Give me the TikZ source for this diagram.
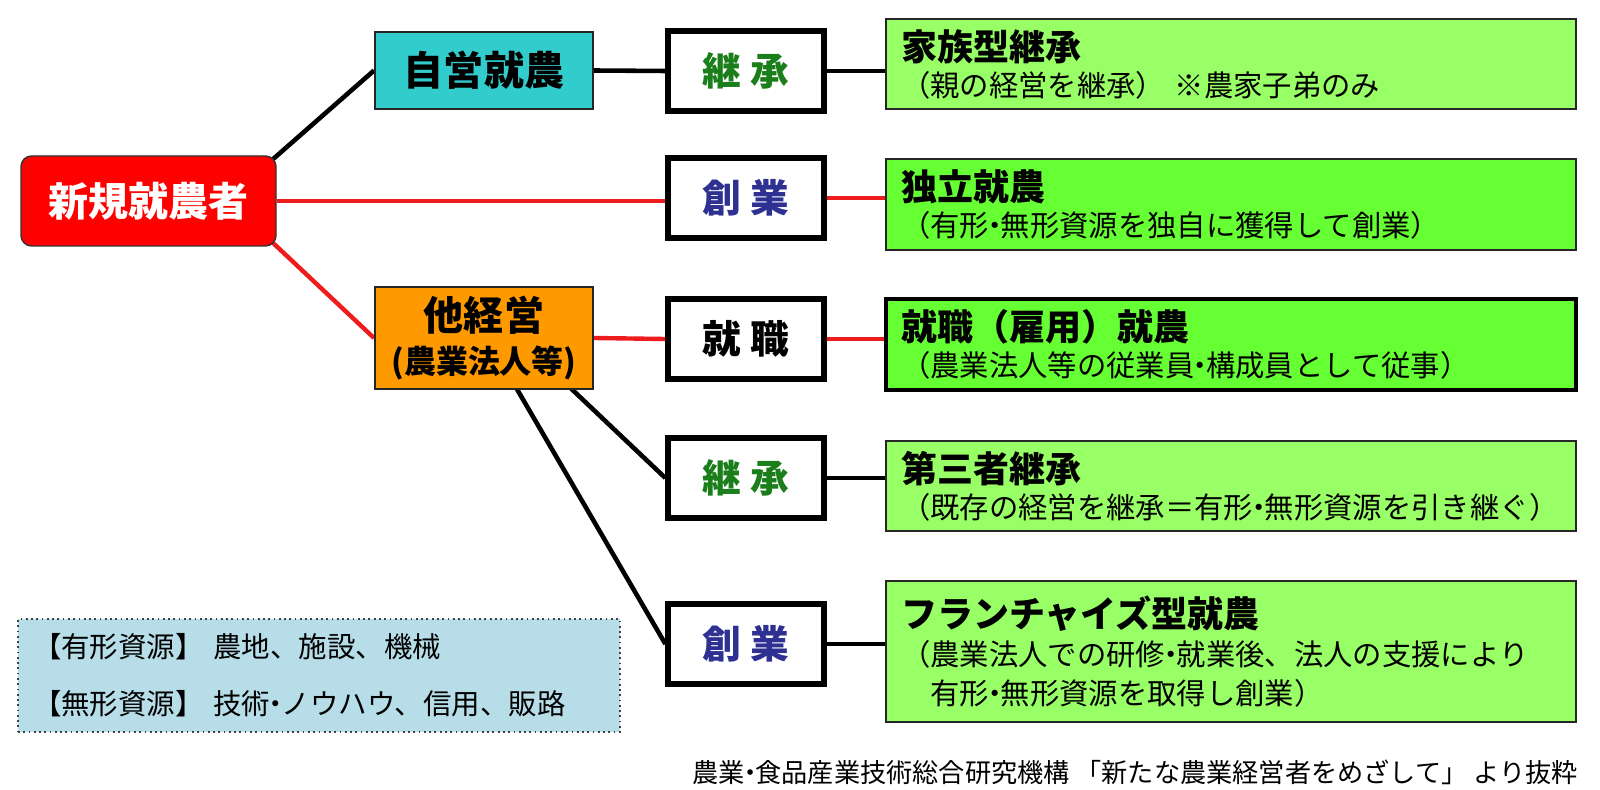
\documentclass[tikz,border=0pt]{standalone}
\usepackage{fontspec}
\setmainfont{Noto Sans CJK JP}
\usepackage{tikz}
\usetikzlibrary{positioning,calc,backgrounds}
\definecolor{rootred}{HTML}{FF0000}
\definecolor{linered}{HTML}{EE1C1C}
\definecolor{selfteal}{HTML}{33CCCC}
\definecolor{orgorange}{HTML}{FF9900}
\definecolor{palegreen}{HTML}{99FF66}
\definecolor{brightgreen}{HTML}{66FF33}
\definecolor{inheritgreen}{HTML}{1A7F1A}
\definecolor{startblue}{HTML}{2E3192}
\definecolor{legendblue}{HTML}{B7DEE8}
\newcommand{\ttl}[1]{{\fontsize{20.5}{24}\selectfont\bfseries #1}\\[5pt]}
\newcommand{\dt}{\kern-.3em・\kern-.3em}
\newcommand{\op}{\kern-.3em（}
\tikzset{
  root/.style={draw=black!80,line width=0.8pt,rounded corners=6pt,fill=rootred,text=white,
               font=\fontsize{22.8}{26}\selectfont\bfseries,minimum width=5.1cm,minimum height=1.8cm},
  branch/.style={draw=black!85,line width=1.1pt,align=center,inner sep=0pt,
                 font=\fontsize{22.8}{24.5}\selectfont\bfseries,minimum width=4.36cm},
  waybox/.style={draw=black,line width=3pt,fill=white,inner sep=0pt,
                 font=\fontsize{22}{24}\selectfont\bfseries,minimum width=3.12cm,minimum height=1.6cm},
  result/.style={draw=black!85,line width=1pt,fill=palegreen,text width=13.2cm,inner xsep=0.3cm,
                 align=left,minimum height=1.8cm,font=\fontsize{16.7}{20.5}\selectfont},
  link/.style={draw=black,line width=2.6pt},
  rlink/.style={draw=linered,line width=2.5pt}
}
\begin{document}
\begin{tikzpicture}
  \useasboundingbox (0,0) rectangle (32,-15.8);

  \node[root] (newcomer) at (2.97,-4.02) {新規就農者};
  \node[branch,fill=selfteal,minimum height=1.54cm] (selfrun) at (9.68,-1.41) {自営就農};
  \node[branch,fill=orgorange,minimum height=2.04cm] (otherfarm) at (9.68,-6.76)
    {他経営\\{\fontsize{18.2}{20}\selectfont (農業法人等)}};

  \node[waybox,text=inheritgreen] (inherit1) at (14.92,-1.42) {継 承};
  \node[waybox,text=startblue] (startup1) at (14.92,-3.96) {創 業};
  \node[waybox] (employ) at (14.92,-6.78) {就 職};
  \node[waybox,text=inheritgreen] (inherit2) at (14.92,-9.56) {継 承};
  \node[waybox,text=startblue] (startup2) at (14.92,-12.88) {創 業};

  \node[result] (family) at (24.62,-1.28) {\ttl{家族型継承}\op 親の経営を継承） ※農家子弟のみ};
  \node[result,fill=brightgreen,minimum height=1.82cm] (indep) at (24.62,-4.09)
    {\ttl{独立就農}\op 有形\dt 無形資源を独自に獲得して創業）};
  \node[result,fill=brightgreen,minimum height=1.82cm,line width=1.8pt,draw=black] (hired) at (24.62,-6.89)
    {\ttl{就職（雇用）就農}\op 農業法人等の従業員\dt 構成員として従事）};
  \node[result] (third) at (24.62,-9.72) {\ttl{第三者継承}\op 既存の経営を継承＝有形\dt 無形資源を引き継ぐ）};
  \node[result,minimum height=2.82cm,font=\fontsize{16.7}{22}\selectfont] (franchise) at (24.62,-13.03)
    {\ttl{フランチャイズ型就農}\op 農業法人での研修\dt 就業後、法人の支援により\\　有形\dt 無形資源を取得し創業）};

  \node[draw=black!75,dotted,line width=1pt,fill=legendblue,text width=11.44cm,inner xsep=0.3cm,
        align=left,minimum height=2.26cm,font=\fontsize{16.2}{32.4}\selectfont] (legend) at (6.38,-13.51)
    {【有形資源】 農地、施設、機械\\【無形資源】 技術\dt ノウハウ、信用、販路};

  \node[anchor=east,inner sep=0pt,font=\fontsize{14.9}{16}\selectfont] (source) at (31.56,-15.44)
    {農業\dt 食品産業技術総合研究機構 「新たな農業経営者をめざして」 より抜粋};

  \begin{scope}[on background layer]
    \draw[link] ([xshift=-0.1cm,yshift=-0.1cm]newcomer.north east) -- (selfrun.west);
    \draw[rlink] (newcomer.east) -- (newcomer.east -| startup1.west);
    \draw[rlink] ([xshift=-0.1cm,yshift=0.1cm]newcomer.south east) -- (otherfarm.west);
    \draw[link] (selfrun.east) -- (inherit1.west);
    \draw[link] (inherit1.east) -- (inherit1.east -| family.west);
    \draw[rlink] (startup1.east) -- (startup1.east -| indep.west);
    \draw[rlink] (otherfarm.east) -- (employ.west);
    \draw[rlink] (employ.east) -- (employ.east -| hired.west);
    \draw[link] ([xshift=-0.48cm,yshift=0.05cm]otherfarm.south east) -- (inherit2.west);
    \draw[link] ([xshift=0.64cm,yshift=0.05cm]otherfarm.south) -- (startup2.west);
    \draw[link] (inherit2.east) -- (inherit2.east -| third.west);
    \draw[link] (startup2.east) -- (startup2.east -| franchise.west);
  \end{scope}
\end{tikzpicture}
\end{document}
